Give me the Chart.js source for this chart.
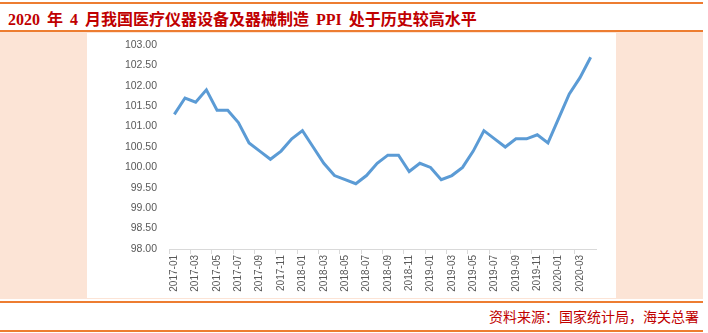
<!DOCTYPE html>
<html>
<head>
<meta charset="utf-8">
<script src="https://cdn.jsdelivr.net/npm/chart.js@4.4.0/dist/chart.umd.min.js"></script>
<style>
  body { margin:0; width:708px; height:333px; background:#fff; position:relative; overflow:hidden; }
  .rule { position:absolute; left:0; width:703px; height:2px; background:#ed7d31; }
  #title { position:absolute; left:8px; top:6px; font:bold 16px "Liberation Serif","Noto Sans CJK SC",serif; color:#c00000; white-space:nowrap; word-spacing:3px; }
  #band { position:absolute; left:0; top:32px; width:703px; height:267px; background:#fce4d6; }
  #box { position:absolute; left:87px; top:33px; width:529px; height:265px; background:#fff; }
  #source { position:absolute; right:9px; top:306px; font:14px "Noto Sans CJK SC",sans-serif; color:#c00000; white-space:nowrap; }
</style>
</head>
<body>
<div class="rule" style="top:2px"></div>
<div id="title">2020 年 4 月我国医疗仪器设备及器械制造 PPI 处于历史较高水平</div>
<div class="rule" style="top:30px"></div>
<div id="band"></div>
<div id="box"><canvas id="chart" width="529" height="265"></canvas></div>
<div class="rule" style="top:301px"></div>
<div id="source">资料来源：国家统计局，海关总署</div>
<div class="rule" style="top:330px"></div>
<script>
const months = [
  "2017-01","2017-02","2017-03","2017-04","2017-05","2017-06","2017-07","2017-08","2017-09","2017-10","2017-11","2017-12",
  "2018-01","2018-02","2018-03","2018-04","2018-05","2018-06","2018-07","2018-08","2018-09","2018-10","2018-11","2018-12",
  "2019-01","2019-02","2019-03","2019-04","2019-05","2019-06","2019-07","2019-08","2019-09","2019-10","2019-11","2019-12",
  "2020-01","2020-02","2020-03","2020-04"
];
const ppi = [
  101.3, 101.7, 101.6, 101.9, 101.4, 101.4, 101.1, 100.6, 100.4, 100.2,
  100.4, 100.7, 100.9, 100.5, 100.1, 99.8, 99.7, 99.6, 99.8, 100.1,
  100.3, 100.3, 99.9, 100.1, 100.0, 99.7, 99.8, 100.0, 100.4, 100.9,
  100.7, 100.5, 100.7, 100.7, 100.8, 100.6, 101.2, 101.8, 102.2, 102.7
];
const yMin = 98, yMax = 103, yStep = 0.5;

const tickFont = { family: "Liberation Sans", size: 10.5 };

new Chart(document.getElementById("chart"), {
  type: "line",
  data: {
    labels: months,
    datasets: [{ data: ppi, borderColor: "#5b9bd5", borderWidth: 3, pointRadius: 0, tension: 0, fill: false }]
  },
  options: {
    responsive: false,
    animation: false,
    layout: { padding: { top: 12, right: 20, bottom: 0, left: 0 } },
    plugins: { legend: { display: false }, tooltip: { enabled: false } },
    scales: {
      x: {
        offset: true,
        afterFit: s => { s.height = 49; s.paddingLeft = 0; s.paddingRight = 0; },
        border: { color: "#d9d9d9", width: 1 },
        grid: {
          offset: true,
          drawOnChartArea: false,
          tickLength: 5,
          color: ctx => ctx.index % 2 === 0 ? "#d9d9d9" : "rgba(0,0,0,0)"
        },
        ticks: {
          autoSkip: false,
          minRotation: 90,
          maxRotation: 90,
          padding: 1,
          color: "#595959",
          font: { family: "Liberation Sans", size: 10 },
          callback: (v, i) => i % 2 === 0 ? months[i] : ""
        }
      },
      y: {
        min: yMin,
        max: yMax,
        afterFit: s => { s.width = 82; s.paddingTop = 0; s.paddingBottom = 0; },
        border: { display: false },
        grid: { display: false, drawTicks: false },
        ticks: {
          stepSize: yStep,
          padding: 12,
          color: "#595959",
          font: tickFont,
          callback: v => v.toFixed(2)
        }
      }
    }
  }
});
</script>
</body>
</html>
